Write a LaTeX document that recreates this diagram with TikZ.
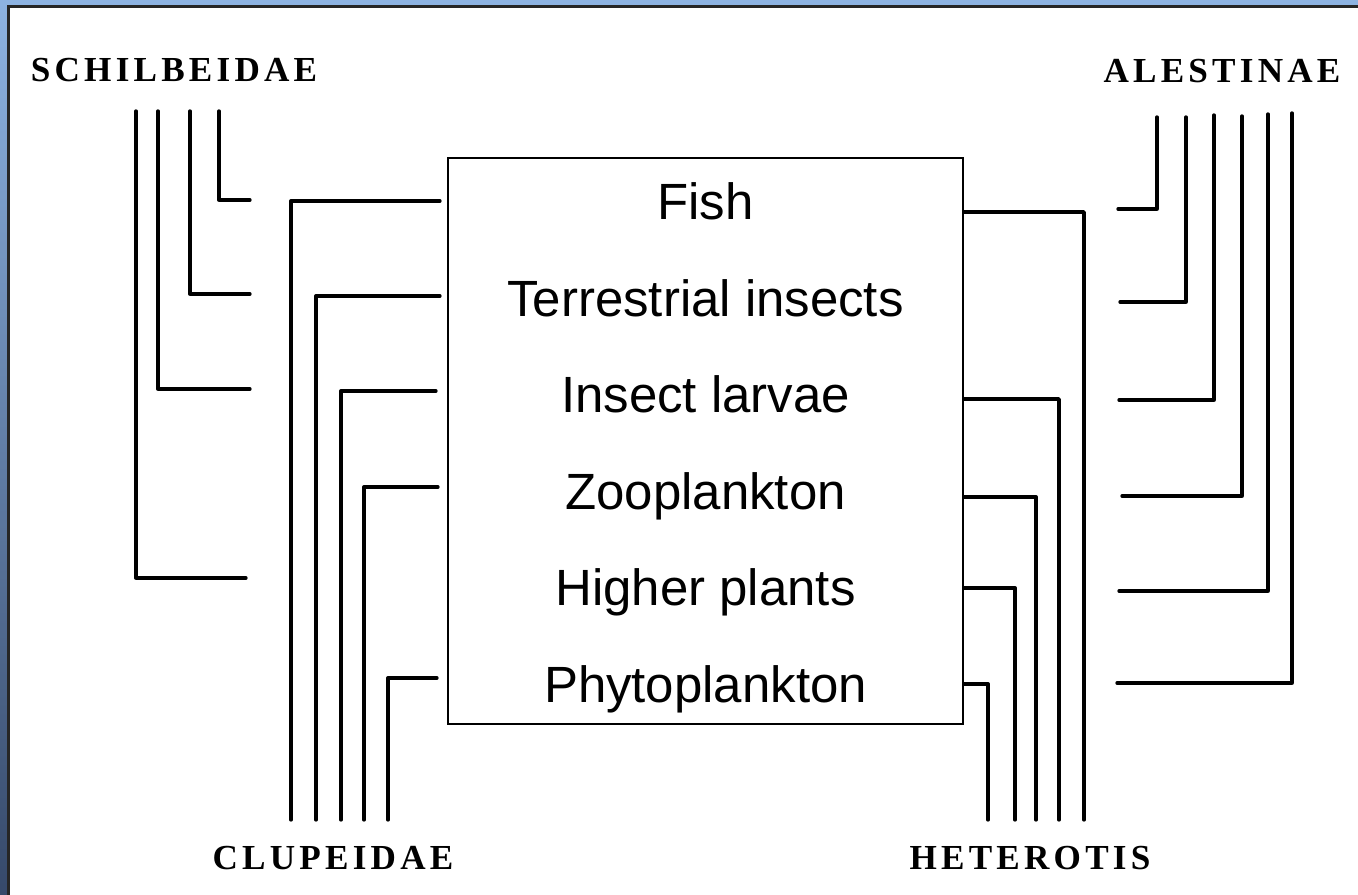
\documentclass[tikz,border=0pt]{standalone}
\usepackage{fontspec}
\setmainfont{Liberation Sans}
\newfontfamily\famfont[LetterSpace=12]{Liberation Serif}
\usetikzlibrary{calc}
\definecolor{framelight}{HTML}{8DB3E2}
\definecolor{framemid}{HTML}{7094C4}
\definecolor{framedark}{HTML}{36496A}

\begin{document}
\begin{tikzpicture}[x=0.1mm, y=-0.1mm,
  wire/.style={line width=0.95pt, line cap=round, line join=round},
  foodtext/.style={anchor=base, font=\fontsize{14.5}{17}\selectfont},
  famlabel/.style={font=\famfont\bfseries\fontsize{10}{12}\selectfont}]
\useasboundingbox (0,0) rectangle (1358,895);
% slide frame
\fill[white] (0,0) rectangle (1358,895);
\shade[top color=framelight, middle color=framemid, bottom color=framedark] (0,0) rectangle (8,895);
\fill[framelight] (0,0) rectangle (1358,6);
\draw[line width=0.6pt, black!85] (8.5,895) -- (8.5,6.5) -- (1358,6.5);

% food categories
\node[draw, line width=0.6pt, minimum width=51.5mm, minimum height=56.6mm] (foodbox) at (705.5,441) {};
\node[foodtext] (fish) at (705.5,220) {Fish};
\node[foodtext] (terr) at (705.5,317) {Terrestrial insects};
\node[foodtext] (larv) at (705.5,413) {Insect larvae};
\node[foodtext] (zoo) at (705.5,510) {Zooplankton};
\node[foodtext] (hplant) at (705.5,606) {Higher plants};
\node[foodtext] (phyto) at (705.5,703) {Phytoplankton};

% family labels
\node[famlabel] (schil) at (174,70) {SCHILBEIDAE};
\node[famlabel] (alest) at (1222,71) {ALESTINAE};
\node[famlabel] (clupe) at (333,858) {CLUPEIDAE};
\node[famlabel] (heter) at (1030,858) {HETEROTIS};

% Schilbeidae
\coordinate (s1a) at (250,200); \coordinate (s1b) at (219,111);
\coordinate (s2a) at (250,294); \coordinate (s2b) at (190,111);
\coordinate (s3a) at (250,389); \coordinate (s3b) at (158,111);
\coordinate (s4a) at (246,578); \coordinate (s4b) at (136,111);
\draw[wire] (s1a) -| (s1b);
\draw[wire] (s2a) -| (s2b);
\draw[wire] (s3a) -| (s3b);
\draw[wire] (s4a) -| (s4b);

% Clupeidae
\coordinate (c1a) at (440,201); \coordinate (c1b) at (291,820);
\coordinate (c2a) at (440,296); \coordinate (c2b) at (316,820);
\coordinate (c3a) at (436,391); \coordinate (c3b) at (341,820);
\coordinate (c4a) at (438,487); \coordinate (c4b) at (364,820);
\coordinate (c5a) at (437,678); \coordinate (c5b) at (388,820);
\draw[wire] (c1a) -| (c1b);
\draw[wire] (c2a) -| (c2b);
\draw[wire] (c3a) -| (c3b);
\draw[wire] (c4a) -| (c4b);
\draw[wire] (c5a) -| (c5b);

% Heterotis, starting at the box edge
\coordinate (h1b) at (1084,820); \coordinate (h2b) at (1059,820);
\coordinate (h3b) at (1036,820); \coordinate (h4b) at (1015,820);
\coordinate (h5b) at (988,820);
\draw[wire] ($(foodbox.east |- 0,212)$) -| (h1b);
\draw[wire] ($(foodbox.east |- 0,399)$) -| (h2b);
\draw[wire] ($(foodbox.east |- 0,497)$) -| (h3b);
\draw[wire] ($(foodbox.east |- 0,588)$) -| (h4b);
\draw[wire] ($(foodbox.east |- 0,684)$) -| (h5b);

% Alestinae
\coordinate (a1a) at (1118,209); \coordinate (a1b) at (1157,117);
\coordinate (a2a) at (1120,302); \coordinate (a2b) at (1186,117);
\coordinate (a3a) at (1119,400); \coordinate (a3b) at (1214,115);
\coordinate (a4a) at (1122,496); \coordinate (a4b) at (1242,116);
\coordinate (a5a) at (1119,591); \coordinate (a5b) at (1268,114);
\coordinate (a6a) at (1117,683); \coordinate (a6b) at (1292,113);
\draw[wire] (a1a) -| (a1b);
\draw[wire] (a2a) -| (a2b);
\draw[wire] (a3a) -| (a3b);
\draw[wire] (a4a) -| (a4b);
\draw[wire] (a5a) -| (a5b);
\draw[wire] (a6a) -| (a6b);
\end{tikzpicture}
\end{document}
